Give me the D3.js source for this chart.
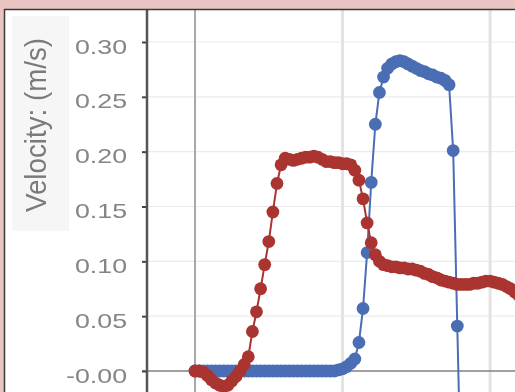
<!DOCTYPE html>
<html><head><meta charset="utf-8">
<script src="https://cdn.jsdelivr.net/npm/d3@7"></script>
<style>html,body{margin:0;padding:0;background:#e9c4c0;overflow:hidden}svg{display:block;filter:blur(0.45px)}</style>
</head><body><svg id="c" width="515" height="392"></svg>
<script>
// ---- data ----
const frameRate = 36; // samples per second
const redVel = [
  0.000,0.000,-0.001,-0.004,-0.008,-0.011,-0.013,-0.014,-0.013,-0.009,
  -0.005,0.000,0.006,0.013,0.036,0.054,0.075,0.097,0.118,0.145,
  0.171,0.188,0.194,0.193,0.192,0.193,0.194,0.195,0.195,0.196,
  0.195,0.193,0.191,0.191,0.190,0.190,0.189,0.189,0.188,0.183,
  0.174,0.157,0.135,0.117,0.106,0.100,0.097,0.096,0.095,0.095,
  0.094,0.094,0.093,0.093,0.092,0.091,0.089,0.088,0.086,0.085,
  0.083,0.082,0.081,0.080,0.079,0.079,0.079,0.079,0.080,0.080,
  0.081,0.082,0.082,0.081,0.080,0.079,0.077,0.075,0.072,0.069
];
const blueVel = [
  0.000,0.000,0.000,0.000,0.000,0.000,0.000,0.000,0.000,0.000,
  0.000,0.000,0.000,0.000,0.000,0.000,0.000,0.000,0.000,0.000,
  0.000,0.000,0.000,0.000,0.000,0.000,0.000,0.000,0.000,0.000,
  0.000,0.000,0.000,0.000,0.000,0.001,0.002,0.004,0.007,0.011,
  0.026,0.057,0.108,0.172,0.225,0.254,0.268,0.276,0.280,0.282,
  0.283,0.282,0.280,0.278,0.276,0.274,0.273,0.271,0.270,0.268,
  0.267,0.265,0.261,0.201,0.041,-0.120,-0.200
];
const gridTimes = [0, 1, 2];
const yTicks = [0, 0.05, 0.10, 0.15, 0.20, 0.25, 0.30];
const yTickLabels = ["-0.00","0.05","0.10","0.15","0.20","0.25","0.30"];
const yLabel = "Velocity: (m/s)";

// ---- layout ----
const W = 515, H = 392;
const svg = d3.select("#c");
const x = d3.scaleLinear().domain([-1.322, 2.169]).range([0, W]);
const y = d3.scaleLinear().domain([-0.01915, 0.3383]).range([H, 0]);
const axisX = 147, panelL = 4, panelT = 9;

svg.append("rect").attr("x", -5).attr("y", -5).attr("width", W + 10).attr("height", panelT + 5).attr("fill", "#e9c4c0");
svg.append("rect").attr("x", panelL).attr("y", panelT).attr("width", W - panelL + 5).attr("height", H - panelT + 5).attr("fill", "#fff");
svg.append("defs").append("clipPath").attr("id", "clip")
  .append("rect").attr("x", panelL + 1).attr("y", panelT + 1).attr("width", W + 5).attr("height", H + 5);

// label background box
svg.append("rect").attr("x", 12).attr("y", 16).attr("width", 57).attr("height", 215).attr("fill", "#f6f6f6");

const g = svg.append("g").attr("clip-path", "url(#clip)");

// horizontal grid
g.selectAll(".hg").data(yTicks.filter(d => d !== 0)).join("line")
  .attr("x1", axisX).attr("x2", W + 5).attr("y1", d => y(d)).attr("y2", d => y(d))
  .attr("stroke", "#ebebeb").attr("stroke-width", 1.2);
// vertical grid
g.selectAll(".vg").data(gridTimes).join("line")
  .attr("x1", d => x(d)).attr("x2", d => x(d)).attr("y1", panelT).attr("y2", H + 5)
  .attr("stroke", (d, i) => i === 0 ? "#a8a8a8" : "#e3e3e3")
  .attr("stroke-width", (d, i) => i === 0 ? 2 : 3);
// zero line
g.append("line").attr("x1", axisX - 5).attr("x2", W + 5).attr("y1", y(0)).attr("y2", y(0))
  .attr("stroke", "#808080").attr("stroke-width", 1.5);

// series
function drawSeries(vals, color) {
  const line = d3.line().x((d, i) => x(i / frameRate)).y(d => y(d));
  g.append("path").datum(vals).attr("d", line).attr("fill", "none")
    .attr("stroke", color).attr("stroke-width", 2);
  g.append("g").selectAll("circle").data(vals).join("circle")
    .attr("cx", (d, i) => x(i / frameRate)).attr("cy", d => y(d))
    .attr("r", 6.4).attr("fill", color);
}
drawSeries(blueVel, "#4a6db4");
drawSeries(redVel, "#a93430");

// y axis
const ax = svg.append("g").attr("transform", `translate(${axisX},0)`)
  .call(d3.axisLeft(y).tickValues(yTicks).tickSize(5).tickFormat((d, i) => yTickLabels[i]));
ax.select(".domain").remove();
ax.selectAll(".tick line").attr("stroke", "#444").attr("stroke-width", 2);
ax.selectAll(".tick text")
  .attr("x", -14.9).attr("dy", "11px")
  .attr("transform", "scale(1.34,1)")
  .attr("fill", "#858585")
  .style("font-family", "'Liberation Sans', Arial, sans-serif")
  .style("font-size", "20px")
  .attr("text-anchor", "end");
svg.append("line").attr("x1", axisX).attr("x2", axisX).attr("y1", panelT).attr("y2", H + 5)
  .attr("stroke", "#555").attr("stroke-width", 2.5);

// y label
svg.append("text").text(yLabel)
  .attr("transform", "translate(46,125) scale(1.3,1) rotate(-90)")
  .attr("text-anchor", "middle")
  .attr("textLength", 174).attr("lengthAdjust", "spacingAndGlyphs")
  .attr("fill", "#7a7a7a")
  .style("font-family", "'Liberation Sans', Arial, sans-serif")
  .style("font-size", "22px");

// panel border
svg.append("line").attr("x1", panelL).attr("x2", W + 5).attr("y1", panelT + 0.5).attr("y2", panelT + 0.5)
  .attr("stroke", "#3a3a3a").attr("stroke-width", 1.5);
svg.append("line").attr("x1", panelL + 0.5).attr("x2", panelL + 0.5).attr("y1", panelT).attr("y2", H + 5)
  .attr("stroke", "#3a3a3a").attr("stroke-width", 1.5);
</script></body></html>
